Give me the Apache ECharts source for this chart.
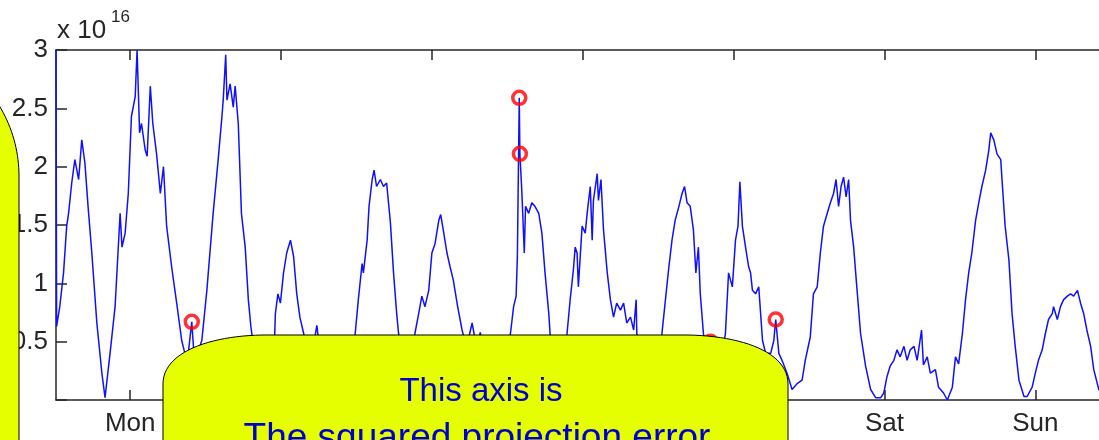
<!DOCTYPE html>
<html>
<head>
<meta charset="utf-8">
<script src="https://cdn.jsdelivr.net/npm/echarts@6/dist/echarts.min.js"></script>
<style>
  html, body { margin: 0; padding: 0; background: #ffffff; overflow: hidden; }
  #chart { position: absolute; left: 0; top: 0; width: 1160px; height: 440px; }
</style>
</head>
<body>
<div id="chart"></div>
<script>
// Hours since Monday 00:00 for each sample of the week
const sampleHours = [
  -11.8, -11.7, -11.2, -10.6, -10.1, -9.8, -9.3, -8.8, -8.2, -7.7, -7.2, -6.7, -6.1, -5.3, -4.5, -4.0,
  -3.2, -2.4, -1.6, -1.3, -0.8, -0.3, 0.2, 0.8, 1.1, 1.5, 1.8, 2.4, 2.7, 3.2, 3.6, 4.2,
  4.8, 5.3, 5.8, 6.6, 7.4, 8.2, 8.7, 9.2, 9.8, 10.2, 10.6, 11.4, 12.2, 13.2, 14.0, 14.6,
  14.8, 15.2, 15.4, 15.9, 16.4, 16.7, 17.2, 17.7, 18.3, 18.8, 19.2, 19.9, 20.7, 21.5, 22.3, 23.0,
  23.1, 23.5, 23.9, 24.4, 24.9, 25.5, 26.0, 26.5, 27.0, 27.6, 28.3, 29.1, 29.7, 30.2, 31.8, 33.4,
  34.7, 35.8, 36.3, 36.9, 37.1, 37.7, 38.0, 38.5, 38.8, 39.2, 39.8, 40.3, 40.8, 41.4, 41.9, 42.4,
  42.7, 43.4, 44.2, 44.9, 45.3, 45.9, 46.4, 46.9, 47.5, 48.0, 48.5, 49.1, 49.4, 49.8, 50.4, 50.9,
  51.4, 52.1, 52.8, 53.5, 54.4, 55.1, 55.7, 56.5, 58.1, 59.4, 60.5, 61.0, 61.4, 61.6, 61.9, 62.0,
  62.3, 62.7, 62.9, 63.4, 63.9, 64.4, 65.0, 65.5, 66.0, 66.6, 66.8, 67.6, 68.4, 68.9, 69.5, 70.0,
  70.5, 70.8, 71.1, 71.3, 71.9, 72.4, 72.7, 73.2, 73.5, 73.7, 74.3, 74.5, 74.9, 75.3, 75.9, 76.4,
  76.9, 77.4, 78.0, 78.5, 79.0, 79.6, 80.1, 80.5, 80.6, 81.5, 82.4, 83.5, 84.2, 84.6, 85.1, 85.7,
  86.2, 86.7, 87.3, 87.8, 88.2, 88.6, 89.1, 89.6, 90.0, 90.4, 90.7, 91.2, 91.8, 92.3, 92.9, 93.7,
  94.2, 94.7, 95.2, 95.8, 96.3, 96.7, 97.0, 97.4, 97.9, 98.4, 98.7, 99.0, 99.5, 100.0, 100.6, 101.1,
  101.9, 102.4, 102.7, 103.2, 103.7, 104.5, 105.3, 106.1, 106.9, 107.4, 108.2, 108.7, 109.3, 109.8, 110.3, 110.9,
  111.4, 111.9, 112.3, 112.7, 113.1, 113.5, 113.9, 114.3, 114.6, 115.1, 115.6, 116.2, 117.0, 117.8, 118.6, 119.4,
  119.9, 120.4, 120.9, 121.5, 122.0, 122.5, 123.1, 123.6, 124.1, 124.7, 125.2, 125.9, 126.2, 126.8, 127.3, 128.1,
  128.6, 129.4, 130.0, 130.8, 131.3, 131.8, 132.4, 132.9, 133.4, 133.9, 134.5, 135.0, 135.5, 136.1, 136.6, 136.9,
  137.4, 137.9, 138.5, 138.7, 139.2, 139.8, 140.3, 140.8, 141.4, 142.2, 142.7, 143.5, 144.0, 144.5, 145.1, 145.6,
  146.1, 146.7, 146.9, 147.5, 148.0, 148.5, 149.1, 149.6, 150.1, 150.7, 151.2, 151.7, 152.2, 152.8, 153.3, 154.1,
  155.0, 156.0
];

// Squared projection error at each sample, in units of 1e16
const errorValues = [
  3.00, 0.63, 0.80, 1.09, 1.49, 1.60, 1.86, 2.06, 1.89, 2.23, 2.03, 1.66, 1.26, 0.66, 0.23, 0.02,
  0.40, 0.80, 1.60, 1.31, 1.43, 1.77, 2.43, 2.60, 3.00, 2.29, 2.37, 2.14, 2.09, 2.69, 2.37, 2.11,
  1.77, 2.00, 1.49, 1.14, 0.83, 0.51, 0.40, 0.38, 0.67, 0.35, 0.38, 0.51, 0.94, 1.60, 2.06, 2.43,
  2.57, 2.96, 2.57, 2.71, 2.51, 2.69, 2.37, 1.60, 1.31, 0.86, 0.63, 0.35, 0.10, 0.05, 0.25, 0.57,
  0.74, 0.91, 0.83, 1.09, 1.26, 1.37, 1.23, 0.91, 0.71, 0.57, 0.40, 0.45, 0.64, 0.40, 0.20, 0.05,
  0.15, 0.57, 0.86, 1.17, 1.09, 1.37, 1.66, 1.89, 1.97, 1.83, 1.89, 1.83, 1.86, 1.52, 1.09, 0.74,
  0.57, 0.35, 0.20, 0.35, 0.57, 0.74, 0.89, 0.80, 0.94, 1.26, 1.34, 1.54, 1.59, 1.46, 1.26, 1.14,
  1.03, 0.80, 0.60, 0.45, 0.66, 0.45, 0.58, 0.30, 0.10, 0.30, 0.57, 0.80, 0.89, 1.23, 2.59, 2.11,
  1.80, 1.26, 1.66, 1.60, 1.69, 1.66, 1.60, 1.43, 1.09, 0.74, 0.57, 0.30, 0.12, 0.30, 0.57, 0.86,
  1.11, 1.31, 1.26, 0.97, 1.49, 1.43, 1.60, 1.83, 1.37, 1.71, 1.94, 1.71, 1.89, 1.46, 1.09, 0.86,
  0.71, 0.83, 0.77, 0.83, 0.66, 0.71, 0.60, 0.86, 0.57, 0.35, 0.15, 0.20, 0.40, 0.57, 0.83, 1.14,
  1.37, 1.54, 1.66, 1.77, 1.83, 1.69, 1.66, 1.46, 1.09, 1.31, 0.91, 0.57, 0.35, 0.50, 0.30, 0.20,
  0.40, 0.57, 1.09, 0.97, 1.37, 1.49, 1.87, 1.49, 1.31, 1.14, 1.09, 0.94, 0.91, 0.97, 0.51, 0.40,
  0.40, 0.51, 0.69, 0.40, 0.34, 0.23, 0.09, 0.14, 0.17, 0.34, 0.54, 0.91, 0.97, 1.26, 1.49, 1.60,
  1.69, 1.77, 1.89, 1.66, 1.83, 1.91, 1.74, 1.89, 1.54, 1.31, 0.97, 0.57, 0.29, 0.09, 0.02, 0.02,
  0.06, 0.20, 0.29, 0.34, 0.43, 0.37, 0.46, 0.34, 0.43, 0.46, 0.34, 0.60, 0.30, 0.37, 0.23, 0.26,
  0.11, 0.06, 0.00, 0.11, 0.37, 0.31, 0.57, 0.86, 1.09, 1.26, 1.54, 1.69, 1.83, 1.97, 2.14, 2.29,
  2.23, 2.11, 2.06, 1.89, 1.49, 1.20, 0.74, 0.46, 0.17, 0.03, 0.03, 0.11, 0.23, 0.34, 0.43, 0.57,
  0.69, 0.74, 0.80, 0.69, 0.80, 0.86, 0.89, 0.91, 0.89, 0.94, 0.83, 0.74, 0.60, 0.46, 0.26, 0.09,
  0.03, 0.10
];

// Samples flagged as anomalous (marked with red circles)
const anomalyHours  = [9.8, 61.9, 62.0, 92.3, 102.7];
const anomalyValues = [0.67, 2.59, 2.11, 0.50, 0.69];

// Day ticks along the time axis
const dayTicks  = [0, 24, 48, 72, 96, 120, 144];
const dayLabels = ['Mon', 'Tue', 'Wed', 'Thu', 'Fri', 'Sat', 'Sun'];

const axisColor = '#262626';
const labelFont = '"Liberation Sans", Arial, Helvetica, sans-serif';
const calloutFill = '#e5ff00';

// Flattens a callout outline into polygon points. Plain points are kept as is;
// a 4-point entry is a cubic Bézier corner; an object is a circular arc corner.
function calloutOutline(segments) {
  const pts = [];
  segments.forEach(seg => {
    if (Array.isArray(seg) && seg.length === 2) {
      pts.push(seg);
    } else if (Array.isArray(seg)) {
      const [p0, p1, p2, p3] = seg;
      for (let i = 0; i <= 24; i++) {
        const t = i / 24, u = 1 - t;
        pts.push([
          u * u * u * p0[0] + 3 * u * u * t * p1[0] + 3 * u * t * t * p2[0] + t * t * t * p3[0],
          u * u * u * p0[1] + 3 * u * u * t * p1[1] + 3 * u * t * t * p2[1] + t * t * t * p3[1]
        ]);
      }
    } else {
      for (let i = 0; i <= 24; i++) {
        const a = (seg.from + (seg.to - seg.from) * i / 24) * Math.PI / 180;
        pts.push([seg.cx + seg.r * Math.cos(a), seg.cy - seg.r * Math.sin(a)]);
      }
    }
  });
  return pts;
}

const leftCallout = calloutOutline([
  [-20, 450],
  { cx: -116, cy: 176, r: 135, from: 42, to: 0 },
  [19, 450]
]);

const bottomCallout = calloutOutline([
  [163, 450],
  [[163, 384], [163, 352], [210, 336], [262, 335]],
  [[688, 335], [742, 336], [788, 352], [788, 384]],
  [788, 450]
]);

const chart = echarts.init(document.getElementById('chart'), null, { renderer: 'canvas' });

const xCommon = {
  type: 'value',
  min: -11.8,
  max: 156.2,
  splitLine: { show: false },
  axisLine: { show: true, onZero: false, lineStyle: { color: axisColor, width: 1.5 } },
  axisTick: { show: true, inside: true, length: 10, customValues: dayTicks, lineStyle: { color: axisColor, width: 1.5 } }
};

chart.setOption({
  animation: false,
  backgroundColor: '#ffffff',
  grid: { left: 56, top: 50, right: 48, bottom: 40, containLabel: false },
  xAxis: [
    Object.assign({}, xCommon, {
      position: 'bottom',
      axisLabel: {
        show: true,
        customValues: dayTicks,
        formatter: v => dayLabels[Math.round(v / 24)],
        color: axisColor,
        fontFamily: labelFont,
        fontSize: 26,
        margin: 11
      }
    }),
    Object.assign({}, xCommon, {
      position: 'top',
      axisLabel: { show: false }
    })
  ],
  yAxis: {
    type: 'value',
    min: 0,
    max: 3,
    interval: 0.5,
    splitLine: { show: false },
    axisLine: { show: true, onZero: false, lineStyle: { color: axisColor, width: 1.5 } },
    axisTick: { show: true, inside: true, length: 11, lineStyle: { color: axisColor, width: 1.5 } },
    axisLabel: {
      color: axisColor,
      fontFamily: labelFont,
      fontSize: 26,
      margin: 8,
      padding: [3, 0, 0, 0],
      formatter: v => (v === 0 ? '' : String(v))
    }
  },
  series: [
    {
      type: 'line',
      data: sampleHours.map((h, i) => [h, errorValues[i]]),
      showSymbol: false,
      symbol: 'none',
      clip: true,
      lineStyle: { color: '#1010ff', width: 1.5 },
      z: 2
    },
    {
      type: 'scatter',
      data: anomalyHours.map((h, i) => [h, anomalyValues[i]]),
      symbol: 'circle',
      symbolSize: 13,
      itemStyle: { color: 'rgba(255,255,255,0)', borderColor: '#ff0000', borderWidth: 3.5 },
      z: 3
    }
  ],
  graphic: [
    // Axis scale factor above the value axis
    {
      type: 'text',
      x: 57,
      y: 18,
      z: 100,
      style: { text: 'x 10', font: '26px ' + labelFont, fill: axisColor }
    },
    {
      type: 'text',
      x: 111,
      y: 9,
      z: 100,
      style: { text: '16', font: '17px ' + labelFont, fill: axisColor }
    },
    // Callout on the left edge
    {
      type: 'polygon',
      z: 100,
      shape: { points: leftCallout },
      style: { fill: calloutFill, stroke: '#000000', lineWidth: 1 }
    },
    // Callout across the bottom explaining the value axis
    {
      type: 'polygon',
      z: 100,
      shape: { points: bottomCallout },
      style: { fill: calloutFill, stroke: '#000000', lineWidth: 1 }
    },
    {
      type: 'text',
      x: 481,
      y: 375,
      z: 101,
      style: {
        text: 'This axis is',
        font: '33px ' + labelFont,
        fill: '#0000cc',
        align: 'center',
        verticalAlign: 'top'
      }
    },
    {
      type: 'text',
      x: 477,
      y: 420,
      z: 101,
      style: {
        text: 'The squared projection error',
        font: '37px ' + labelFont,
        fill: '#0000cc',
        align: 'center',
        verticalAlign: 'top'
      }
    }
  ]
});
</script>
</body>
</html>
